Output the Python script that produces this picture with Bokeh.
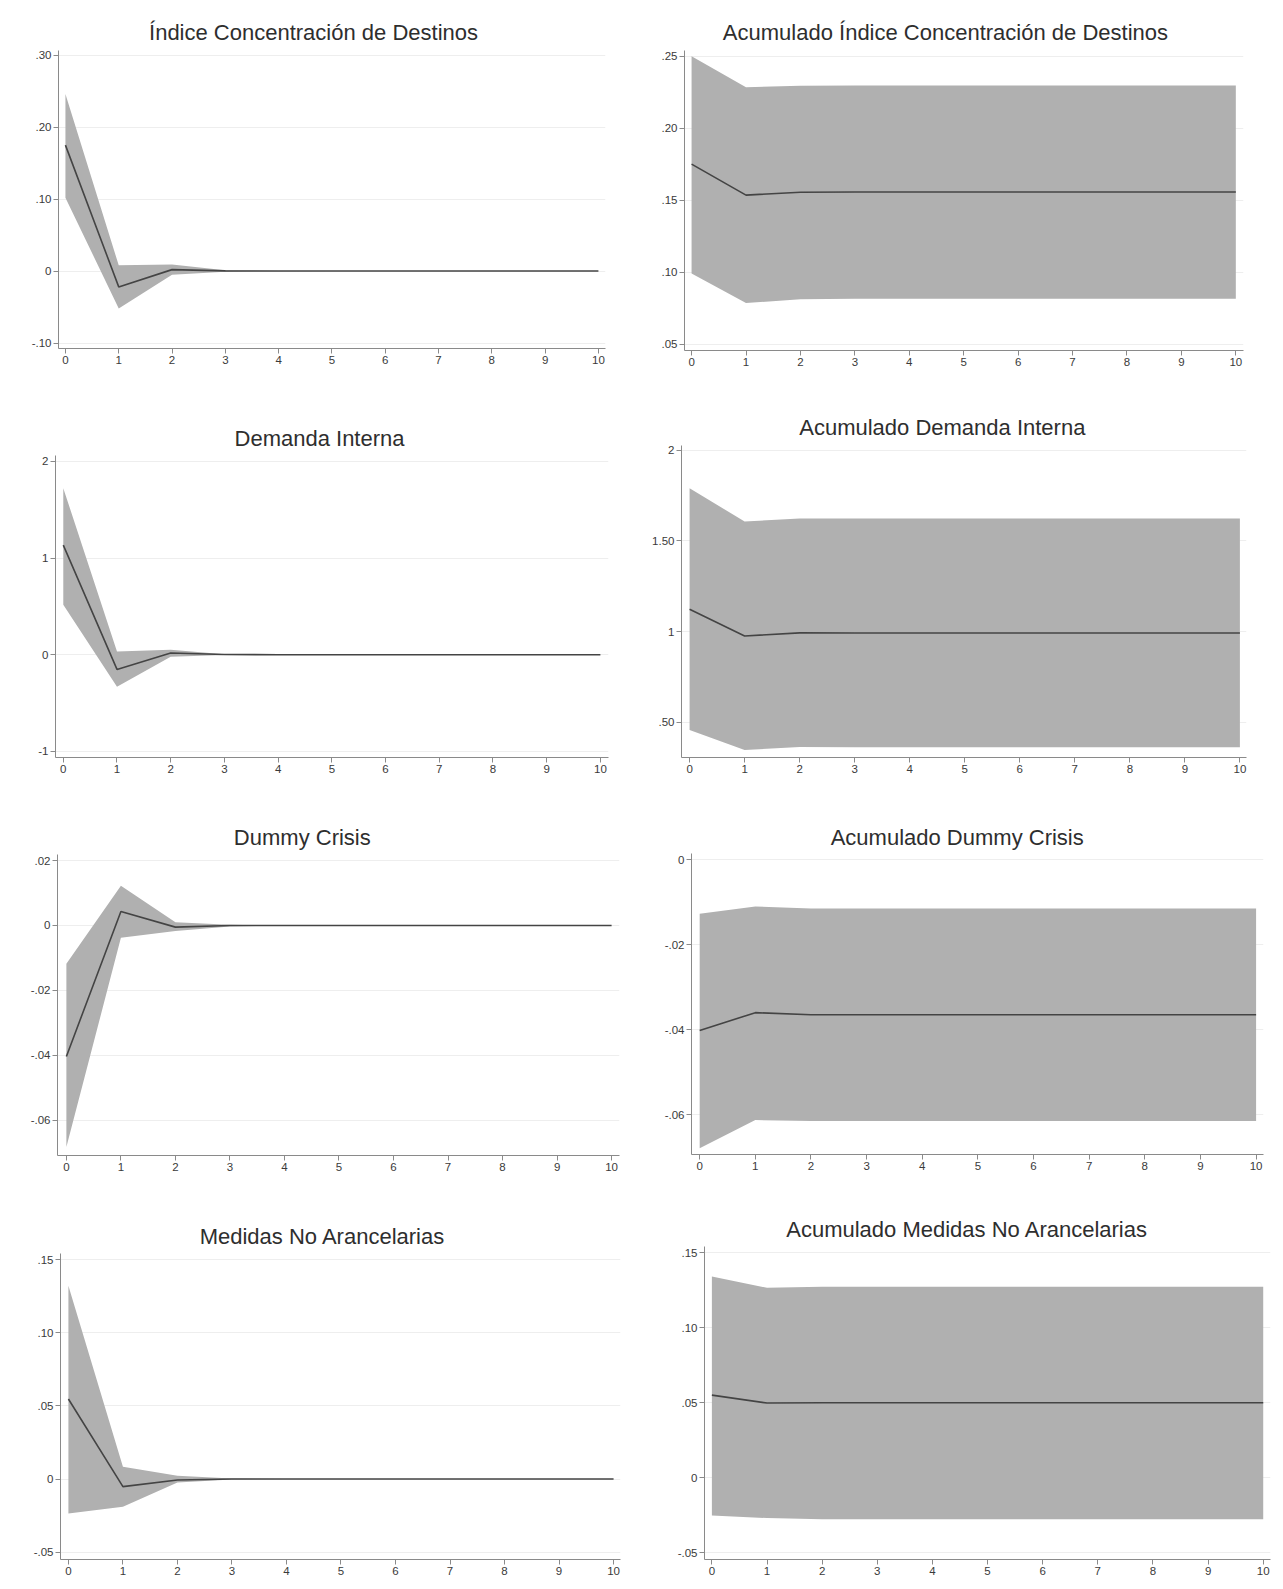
from bokeh.plotting import figure
from bokeh.layouts import column, row
from bokeh.models import FixedTicker, Range1d
from bokeh.embed import file_html
from bokeh.resources import INLINE

# ---------------- data ----------------
STEPS = [0, 1, 2, 3, 4, 5, 6, 7, 8, 9, 10]
X_TICK_LABELS = ["0", "1", "2", "3", "4", "5", "6", "7", "8", "9", "10"]

# Índice Concentración de Destinos (IRF)
IDC_IRF = [0.175, -0.022, 0.002, 0.0003, 0.0, 0.0, 0.0, 0.0, 0.0, 0.0, 0.0]
IDC_LO = [0.102, -0.052, -0.005, -0.0008, -0.0001, 0.0, 0.0, 0.0, 0.0, 0.0, 0.0]
IDC_HI = [0.246, 0.008, 0.009, 0.0012, 0.0002, 0.0, 0.0, 0.0, 0.0, 0.0, 0.0]
IDC_YTICKS = [-0.10, 0.0, 0.10, 0.20, 0.30]
IDC_YLABELS = ["-.10", "0", ".10", ".20", ".30"]

# Acumulado Índice Concentración de Destinos
CIDC_IRF = [0.175, 0.1535, 0.1555, 0.1557, 0.1557, 0.1557, 0.1557, 0.1557, 0.1557, 0.1557, 0.1557]
CIDC_LO = [0.099, 0.0785, 0.0812, 0.0815, 0.0815, 0.0815, 0.0815, 0.0815, 0.0815, 0.0815, 0.0815]
CIDC_HI = [0.250, 0.2285, 0.2295, 0.2296, 0.2296, 0.2296, 0.2296, 0.2296, 0.2296, 0.2296, 0.2296]
CIDC_YTICKS = [0.05, 0.10, 0.15, 0.20, 0.25]
CIDC_YLABELS = [".05", ".10", ".15", ".20", ".25"]

# Demanda Interna (IRF)
DEM_IRF = [1.134, -0.152, 0.017, 0.002, 0.0, 0.0, 0.0, 0.0, 0.0, 0.0, 0.0]
DEM_LO = [0.517, -0.331, -0.02, -0.003, -0.0005, 0.0, 0.0, 0.0, 0.0, 0.0, 0.0]
DEM_HI = [1.724, 0.034, 0.052, 0.006, 0.001, 0.0, 0.0, 0.0, 0.0, 0.0, 0.0]
DEM_YTICKS = [-1, 0, 1, 2]
DEM_YLABELS = ["-1", "0", "1", "2"]

# Acumulado Demanda Interna
CDEM_IRF = [1.123, 0.976, 0.993, 0.992, 0.992, 0.992, 0.992, 0.992, 0.992, 0.992, 0.992]
CDEM_LO = [0.458, 0.348, 0.364, 0.363, 0.363, 0.363, 0.363, 0.363, 0.363, 0.363, 0.363]
CDEM_HI = [1.790, 1.606, 1.623, 1.623, 1.623, 1.623, 1.623, 1.623, 1.623, 1.623, 1.623]
CDEM_YTICKS = [0.5, 1.0, 1.5, 2.0]
CDEM_YLABELS = [".50", "1", "1.50", "2"]

# Dummy Crisis (IRF)
DUM_IRF = [-0.0403, 0.0043, -0.0005, 0.0, 0.0, 0.0, 0.0, 0.0, 0.0, 0.0, 0.0]
DUM_LO = [-0.0682, -0.0038, -0.0017, -0.0003, 0.0, 0.0, 0.0, 0.0, 0.0, 0.0, 0.0]
DUM_HI = [-0.0118, 0.0122, 0.001, 0.0002, 0.0, 0.0, 0.0, 0.0, 0.0, 0.0, 0.0]
DUM_YTICKS = [-0.06, -0.04, -0.02, 0.0, 0.02]
DUM_YLABELS = ["-.06", "-.04", "-.02", "0", ".02"]

# Acumulado Dummy Crisis
CDUM_IRF = [-0.0402, -0.0360, -0.0365, -0.0365, -0.0365, -0.0365, -0.0365, -0.0365, -0.0365, -0.0365, -0.0365]
CDUM_LO = [-0.0679, -0.0613, -0.0615, -0.0615, -0.0615, -0.0615, -0.0615, -0.0615, -0.0615, -0.0615, -0.0615]
CDUM_HI = [-0.0127, -0.0110, -0.0115, -0.0115, -0.0115, -0.0115, -0.0115, -0.0115, -0.0115, -0.0115, -0.0115]
CDUM_YTICKS = [-0.06, -0.04, -0.02, 0.0]
CDUM_YLABELS = ["-.06", "-.04", "-.02", "0"]

# Medidas No Arancelarias (IRF)
MNA_IRF = [0.0547, -0.0052, -0.0007, 0.0, 0.0, 0.0, 0.0, 0.0, 0.0, 0.0, 0.0]
MNA_LO = [-0.0235, -0.0189, -0.0023, -0.0003, 0.0, 0.0, 0.0, 0.0, 0.0, 0.0, 0.0]
MNA_HI = [0.132, 0.0084, 0.0023, 0.0003, 0.0, 0.0, 0.0, 0.0, 0.0, 0.0, 0.0]
MNA_YTICKS = [-0.05, 0.0, 0.05, 0.10, 0.15]
MNA_YLABELS = ["-.05", "0", ".05", ".10", ".15"]

# Acumulado Medidas No Arancelarias
CMNA_IRF = [0.0551, 0.0498, 0.0500, 0.0500, 0.0500, 0.0500, 0.0500, 0.0500, 0.0500, 0.0500, 0.0500]
CMNA_LO = [-0.0251, -0.0269, -0.0276, -0.0276, -0.0276, -0.0276, -0.0276, -0.0276, -0.0276, -0.0276, -0.0276]
CMNA_HI = [0.1342, 0.1267, 0.1273, 0.1273, 0.1273, 0.1273, 0.1273, 0.1273, 0.1273, 0.1273, 0.1273]
CMNA_YTICKS = [-0.05, 0.0, 0.05, 0.10, 0.15]
CMNA_YLABELS = ["-.05", "0", ".05", ".10", ".15"]

TITLES = [
    "Índice Concentración de Destinos", "Acumulado Índice Concentración de Destinos",
    "Demanda Interna", "Acumulado Demanda Interna",
    "Dummy Crisis", "Acumulado Dummy Crisis",
    "Medidas No Arancelarias", "Acumulado Medidas No Arancelarias",
]

# ---------------- style / layout ----------------
BAND = "#b0b0b0"
LINE = "#444444"
AXIS = "#8a8a8a"
TEXT = "#3a3a3a"
GRID = "#eeeeee"
FONT = "Liberation Sans"
TITLE_SIZE = 22
TICK_SIZE = "11.5px"

# Arial/Liberation Sans advance widths (per 1000 em)
AW = {" ": 278, "A": 667, "C": 722, "D": 722, "I": 278, "Í": 278, "M": 833, "N": 722,
      "a": 556, "c": 500, "d": 556, "e": 556, "i": 222, "l": 222, "m": 833, "n": 556,
      "o": 556, "ó": 556, "r": 333, "s": 500, "t": 278, "u": 556, "y": 500}


def text_width(s, size):
    return sum(AW.get(c, 556) for c in s) / 1000.0 * size


# per panel: size, borders, ranges, frame-left (page px), title centre x (page px), title gap above frame
PANELS = [
    dict(data=(IDC_IRF, IDC_LO, IDC_HI, IDC_YTICKS, IDC_YLABELS), w=640, h=392, bl=58, br=35, bt=50, bb=44,
         xr=(-0.13, 10.133), yr=(-0.1076, 0.3065), fl=58, tc=313, td=18.6),
    dict(data=(CIDC_IRF, CIDC_LO, CIDC_HI, CIDC_YTICKS, CIDC_YLABELS), w=635, h=392, bl=44, br=32, bt=50, bb=42,
         xr=(-0.13, 10.141), yr=(0.0455, 0.254), fl=684, tc=944.9, td=18.6),
    dict(data=(DEM_IRF, DEM_LO, DEM_HI, DEM_YTICKS, DEM_YLABELS), w=640, h=398, bl=55, br=32, bt=63, bb=33,
         xr=(-0.145, 10.151), yr=(-1.064, 2.062), fl=55, tc=319, td=16.7),
    dict(data=(CDEM_IRF, CDEM_LO, CDEM_HI, CDEM_YTICKS, CDEM_YLABELS), w=635, h=398, bl=41, br=29, bt=53, bb=33,
         xr=(-0.147, 10.12), yr=(0.3064, 2.025), fl=681, tc=941.8, td=19.0),
    dict(data=(DUM_IRF, DUM_LO, DUM_HI, DUM_YTICKS, DUM_YLABELS), w=640, h=393, bl=57, br=21, bt=64, bb=28,
         xr=(-0.163, 10.145), yr=(-0.0708, 0.02185), fl=57, tc=301.8, td=16.7),
    dict(data=(CDUM_IRF, CDUM_LO, CDUM_HI, CDUM_YTICKS, CDUM_YLABELS), w=635, h=393, bl=51, br=12, bt=63, bb=29,
         xr=(-0.147, 10.133), yr=(-0.0694, 0.00148), fl=691, tc=956.7, td=16.3),
    dict(data=(MNA_IRF, MNA_LO, MNA_HI, MNA_YTICKS, MNA_YLABELS), w=640, h=398, bl=60, br=20, bt=70, bb=22,
         xr=(-0.145, 10.127), yr=(-0.055, 0.1541), fl=60, tc=322, td=18.0),
    dict(data=(CMNA_IRF, CMNA_LO, CMNA_HI, CMNA_YTICKS, CMNA_YLABELS), w=635, h=398, bl=64, br=5, bt=63, bb=22,
         xr=(-0.134, 10.132), yr=(-0.0545, 0.1542), fl=704, tc=966.7, td=18.3),
]


def make_panel(title, spec):
    irf, lo, hi, yticks, ylabels = spec["data"]
    p = figure(width=spec["w"], height=spec["h"], output_backend="svg", toolbar_location=None,
               x_range=Range1d(*spec["xr"]), y_range=Range1d(*spec["yr"]),
               min_border_left=spec["bl"], min_border_right=spec["br"],
               min_border_top=spec["bt"], min_border_bottom=spec["bb"],
               title=title)
    p.background_fill_color = "white"
    p.border_fill_color = "white"
    p.outline_line_color = None

    p.varea(x=STEPS, y1=lo, y2=hi, fill_color=BAND, fill_alpha=1.0)
    p.line(x=STEPS, y=irf, line_color=LINE, line_width=1.6)

    # title
    p.title.text_font = FONT
    p.title.text_font_size = f"{TITLE_SIZE}px"
    p.title.text_font_style = "normal"
    p.title.text_color = "#2e2e2e"
    p.title.align = "left"
    p.title.offset = spec["tc"] - text_width(title, TITLE_SIZE) / 2.0 - spec["fl"]
    p.title.standoff = max(0, int(round(spec["td"] - 8)))

    # axes
    for ax in (p.xaxis[0], p.yaxis[0]):
        ax.axis_line_color = AXIS
        ax.axis_line_width = 1
        ax.major_tick_line_color = AXIS
        ax.major_tick_in = 0
        ax.major_tick_out = 5
        ax.minor_tick_line_color = None
        ax.major_label_text_font = FONT
        ax.major_label_text_font_size = TICK_SIZE
        ax.major_label_text_color = TEXT
        ax.major_label_standoff = 2

    p.xaxis.ticker = FixedTicker(ticks=STEPS)
    p.xaxis.major_label_overrides = {s: l for s, l in zip(STEPS, X_TICK_LABELS)}
    p.yaxis.ticker = FixedTicker(ticks=yticks)
    p.yaxis.major_label_overrides = {t: l for t, l in zip(yticks, ylabels)}
    p.yaxis.major_label_orientation = "horizontal"

    p.xgrid.visible = False
    p.ygrid.ticker = FixedTicker(ticks=yticks)
    p.ygrid.grid_line_color = GRID
    p.ygrid.grid_line_width = 1
    return p


figs = [make_panel(t, s) for t, s in zip(TITLES, PANELS)]
# each figure wrapped in its own column so frames are not aligned across a row
layout = column(
    row(column(figs[0]), column(figs[1])),
    row(column(figs[2]), column(figs[3])),
    row(column(figs[4]), column(figs[5])),
    row(column(figs[6]), column(figs[7])),
)

with open("out.html", "w") as f:
    f.write(file_html(layout, INLINE))
